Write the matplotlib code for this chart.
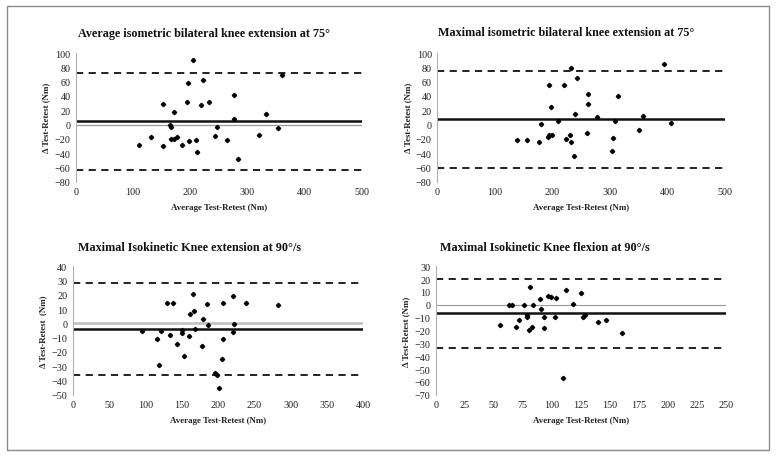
import matplotlib
matplotlib.use("Agg")
import matplotlib.pyplot as plt
from matplotlib.patches import Rectangle

# ---------------- data ----------------
titles = [
    "Average isometric bilateral knee extension at 75°",
    "Maximal isometric bilateral knee extension at 75°",
    "Maximal Isokinetic Knee extension at 90°/s",
    "Maximal Isokinetic Knee flexion at 90°/s",
]
xlabel = "Average Test-Retest (Nm)"
ylabels = ["Δ Test-Retest (Nm)", "Δ Test-Retest (Nm)", "Δ Test-Retest  (Nm)", "Δ Test-Retest (Nm)"]

p1_x = [110, 131, 153, 153, 172, 165, 167, 167, 172, 176, 185, 195, 196, 197, 205, 210, 212,
        219, 223, 232, 243, 246, 264, 276, 277, 283, 321, 333, 354, 360]
p1_y = [-29, -18, 28, -30, 17, -1, -3, -20, -20.5, -18, -28, 32, 58, -23, 90, -21, -38,
        27, 62, 31, -16, -4, -21, 8, 41, -48, -14, 15, -5, 69]
p1_mean, p1_upper, p1_lower = 4.2, 72, -63.5

p2_x = [138, 156, 177, 181, 192, 194, 194, 198, 200, 209, 220, 224, 231, 233, 233, 237, 239,
        242, 261, 262, 262, 278, 305, 304, 308, 314, 351, 357, 394, 407]
p2_y = [-21, -22, -25, 1, -17, -14, 55, 24, -14, 5, 55, -20, -15, -25, 79, -44, 15,
        65, -12, 42, 29, 10, -19, -37, 5, 40, -8, 12, 84, 2]
p2_mean, p2_upper, p2_lower = 7.9, 75, -60.2

p3_x = [95, 116, 119, 122, 130, 134, 138, 143, 150, 151, 153, 160, 161, 165, 167, 168, 178,
        179, 185, 186, 196, 198, 201, 206, 207, 207, 221, 221, 222, 239, 283]
p3_y = [-5, -11, -29.5, -5, 14, -8.5, 14, -14.7, -7, -4.7, -22.7, -8.6, 6.3, 20.8, 8.7, -3.9, -16,
        3, 13.5, -1, -35, -36, -45, -25.3, -11.2, 14.3, 19.2, -6.3, -0.5, 14.5, 12.9]
p3_mean, p3_upper, p3_lower = -4.0, 28.5, -36.3

p4_x = [55, 63, 66, 69, 72, 76, 79, 79, 80, 81, 83, 84, 90, 91, 93, 93, 97, 99, 104, 103,
        110, 112, 118, 125, 127, 129, 140, 147, 161]
p4_y = [-15.5, 0, -0.3, -17.3, -12.1, -0.3, -9.2, -8.2, -19.6, 13.9, -17.5, 0.2, 4.5, -3.5, -9.7, -18, 7, 6, 5.5, -9.7,
        -57, 11.8, 0.4, 9.5, -9.5, -8.2, -13.6, -11.8, -21.9]
p4_mean, p4_upper, p4_lower = -6.6, 20.1, -33.6

panels = [
    dict(x=p1_x, y=p1_y, mean=p1_mean, up=p1_upper, lo=p1_lower, xlim=(0, 500), xt=list(range(0, 501, 100)),
         ylim=(-80, 100), yt=list(range(-80, 101, 20)), zero=True, zc="#9a9a9a", zw=0.9),
    dict(x=p2_x, y=p2_y, mean=p2_mean, up=p2_upper, lo=p2_lower, xlim=(0, 500), xt=list(range(0, 501, 100)),
         ylim=(-80, 100), yt=list(range(-80, 101, 20)), zero=False, zc="#bbbbbb", zw=0.8),
    dict(x=p3_x, y=p3_y, mean=p3_mean, up=p3_upper, lo=p3_lower, xlim=(0, 400), xt=list(range(0, 401, 50)),
         ylim=(-50, 40), yt=list(range(-50, 41, 10)), zero=True, zc="#c4c4c4", zw=2.0),
    dict(x=p4_x, y=p4_y, mean=p4_mean, up=p4_upper, lo=p4_lower, xlim=(0, 250), xt=list(range(0, 251, 25)),
         ylim=(-70, 30), yt=list(range(-70, 31, 10)), zero=True, zc="#9a9a9a", zw=0.8),
]

# ---------------- layout ----------------
W, H = 777, 460
fig = plt.figure(figsize=(W / 100, H / 100), dpi=100)
plt.rcParams["font.family"] = ["Liberation Serif", "DejaVu Serif"]

# axes boxes in pixels: left, right, top, bottom
boxes = [(76, 361.7, 54, 182.7), (437.3, 725, 54, 182.7),
         (72.7, 363.3, 267.3, 395.7), (435.7, 725.7, 267.3, 395.7)]
title_pos = [(78, 33.5), (438, 33.5), (78, 247.7), (440, 247.7)]

for i, (p, b) in enumerate(zip(panels, boxes)):
    l, r, t, bt = b
    ax = fig.add_axes([l / W, 1 - bt / H, (r - l) / W, (bt - t) / H])
    ax.set_xlim(*p["xlim"])
    ax.set_ylim(*p["ylim"])
    ax.set_xticks(p["xt"])
    ax.set_yticks(p["yt"])
    ax.tick_params(length=0, labelsize=7.3, colors="#222222", pad=4)
    for s in ["top", "right", "bottom"]:
        ax.spines[s].set_visible(False)
    ax.spines["left"].set_color("#b0b0b0")
    ax.spines["left"].set_linewidth(0.8)
    if p["zero"]:
        ax.axhline(0, color=p["zc"], lw=p["zw"], zorder=1)
    ax.axhline(p["mean"], color="#111111", lw=1.8, zorder=2)
    ax.axhline(p["up"], color="#111111", lw=1.3, ls=(0, (4, 3)), zorder=2)
    ax.axhline(p["lo"], color="#111111", lw=1.3, ls=(0, (4, 3)), zorder=2)
    ax.plot(p["x"], p["y"], ls="none", marker="D", ms=2.2, color="black", zorder=3)
    ax.set_xlabel(xlabel, fontsize=6.4, fontweight="bold", labelpad=5, color="#222222")
    ax.set_ylabel(ylabels[i], fontsize=6.4, fontweight="bold", labelpad=3, color="#222222")
    tx, ty = title_pos[i]
    fig.text(tx / W, 1 - ty / H, titles[i], fontsize=8.7, fontweight="bold",
             ha="left", va="center", color="#111111")

fig.patches.append(Rectangle((7 / W, 1 - 451 / H), (769 - 7) / W, (451 - 7) / H,
                             transform=fig.transFigure, fill=False, edgecolor="#8a8a8a", lw=1.0))

fig.savefig("out.png", dpi=100, facecolor="white")
